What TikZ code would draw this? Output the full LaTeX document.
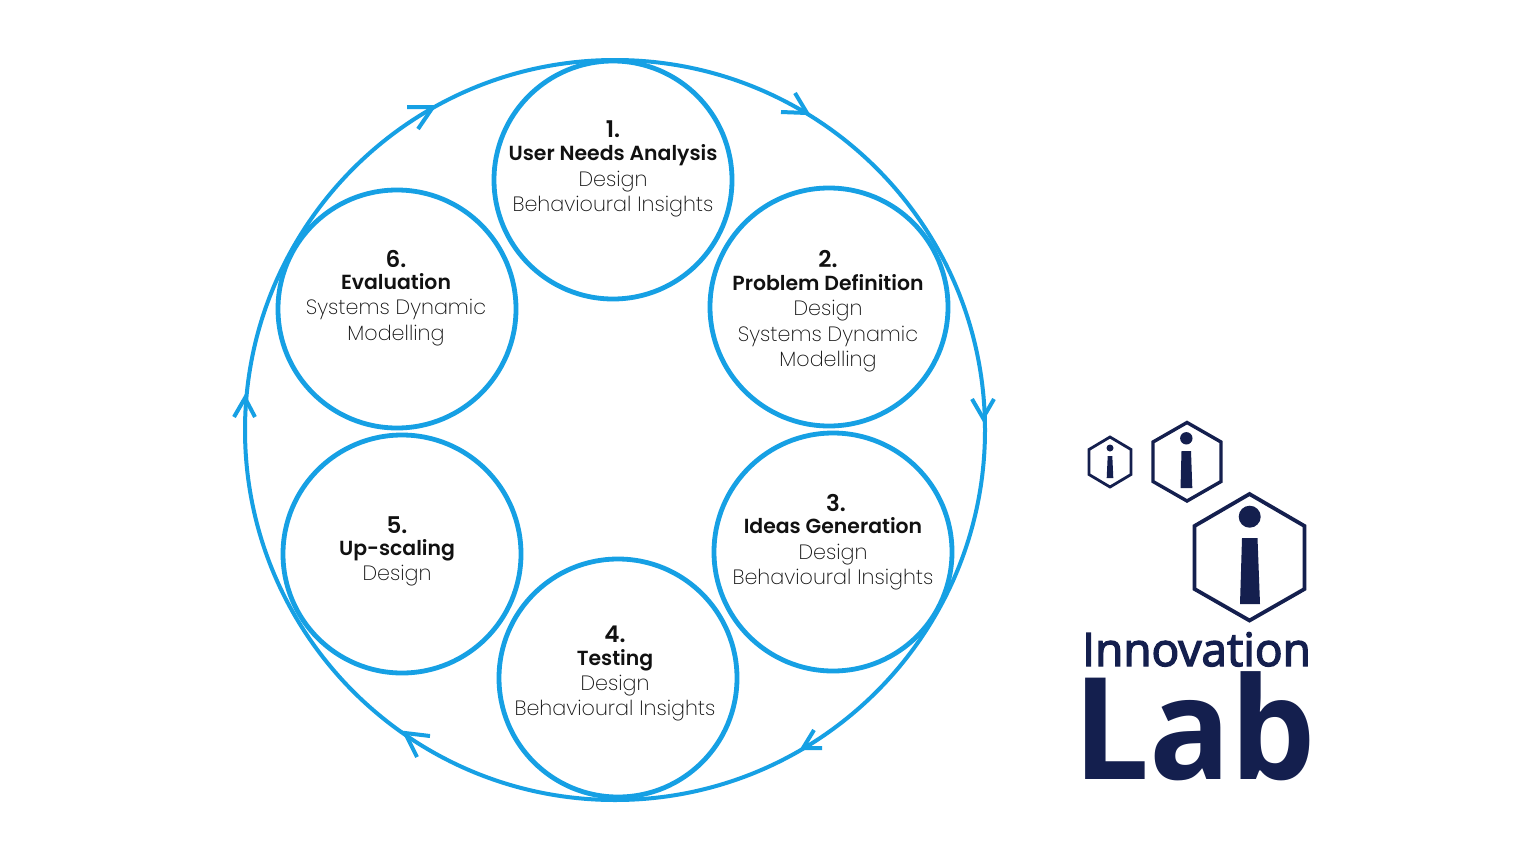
\documentclass[tikz,border=0pt]{standalone}
\usepackage{fontspec}
\setmainfont{Poppins ExtraLight}[BoldFont={Poppins SemiBold}]
\newfontfamily\logofont{Open Sans}[FakeBold=3]
\newfontfamily\logobold{Open Sans}
\definecolor{ringblue}{HTML}{16A0E4}
\definecolor{navy}{HTML}{141F4E}
\definecolor{txt}{HTML}{111111}
\tikzset{
  ring/.style={draw=ringblue,line width=4pt,circle,inner sep=0pt,minimum size=740pt},
  stage/.style={draw=ringblue,line width=4.8pt,circle,inner sep=0pt,minimum size=238pt},
  stagetxt/.style={anchor=north,align=center,text=txt,inner sep=0pt,font=\fontsize{20.7}{25.4}\selectfont},
  barb/.style={draw=ringblue,line width=4pt,line join=miter},
  hexa/.style={draw=navy,fill=white,line join=miter},
  logomark/.style={fill=navy,draw=none},
  logotxt/.style={anchor=base west,text=navy,inner sep=0pt}
}
\newcommand{\hd}[1]{{\bfseries\fontsize{20.4}{25.4}\selectfont #1}}
\newcommand{\nm}[1]{{\bfseries\fontsize{23}{25.4}\selectfont #1}}
\begin{document}
\begin{tikzpicture}[x=1pt,y=-1pt]
\useasboundingbox (0,0) rectangle (1536,854);
\fill[white] (0,0) rectangle (1536,854);

\node[ring] (big) at (615,430) {};
\node[stage] (s1) at (613,180) {};
\node[stage] (s2) at (829,307) {};
\node[stage] (s3) at (833,552) {};
\node[stage] (s4) at (618,678) {};
\node[stage] (s5) at (402,554) {};
\node[stage] (s6) at (397,309) {};

\node[stagetxt] (t1) at (613,121) {\nm{1.}\\[-2.5pt]\hd{User Needs Analysis}\\Design\\Behavioural Insights};
\node[stagetxt] (t2) at (828,250) {\nm{2.}\\[-2.5pt]\hd{Problem Definition}\\Design\\Systems Dynamic\\Modelling};
\node[stagetxt] (t3) at (836,494) {\nm{3.}\\[-3pt]\hspace{-6pt}\hd{Ideas Generation}\\\hspace{-6pt}Design\\\hspace{-6pt}Behavioural Insights};
\node[stagetxt] (t4) at (615,626) {\nm{4.}\\[-3pt]\hd{Testing}\\Design\\Behavioural Insights};
\node[stagetxt] (t5) at (397,516) {\nm{5.}\\[-3pt]\hd{Up-scaling}\\Design};
\node[stagetxt] (t6) at (396,250) {\nm{6.}\\[-3.5pt]\hd{Evaluation}\\Systems Dynamic\\Modelling};

\draw[barb] (795,93) -- (807,113) -- (781,112);
\draw[barb] (972,399) -- (983,418) -- (994,399);
\draw[barb] (814,730) -- (803,748) -- (822,748);
\draw[barb] (430,736) -- (405,733) -- (417,757);
\draw[barb] (234,417) -- (245,398) -- (255,417);
\draw[barb] (407,107) -- (433,107) -- (418,129);

% logo hexagons
\draw[hexa,line width=2.8pt] (1110,437) -- (1131,449.5) -- (1131,474.5) -- (1110,487) -- (1089,474.5) -- (1089,449.5) -- cycle;
\draw[hexa,line width=3.4pt] (1187,422.5) -- (1221,442) -- (1221,481.5) -- (1187,501) -- (1153,481.5) -- (1153,442) -- cycle;
\draw[hexa,line width=3.8pt] (1249.5,494) -- (1304.5,526) -- (1304.5,589) -- (1249.5,620.5) -- (1194.5,589) -- (1194.5,526) -- cycle;
\fill[logomark] (1110,448) circle (3.5);
\fill[logomark] (1107.7,456) -- (1112.3,456) -- (1113.3,478) -- (1106.7,478) -- cycle;
\fill[logomark] (1186.3,438.3) circle (6.2);
\fill[logomark] (1181.5,451) -- (1191,451) -- (1192.3,488) -- (1180.5,488) -- cycle;
\fill[logomark] (1249.7,516.7) circle (11);
\fill[logomark] (1242,538) -- (1257.5,538) -- (1260,604) -- (1240,604) -- cycle;

\node[logotxt,font=\logofont\fontsize{46}{46}\selectfont] (innov) at (1082,666) {Innovation};
\node[logotxt,xscale=.95,transform shape,font=\logobold\bfseries\fontsize{142}{142}\selectfont] (lab) at (1073,779) {Lab};
\end{tikzpicture}
\end{document}
